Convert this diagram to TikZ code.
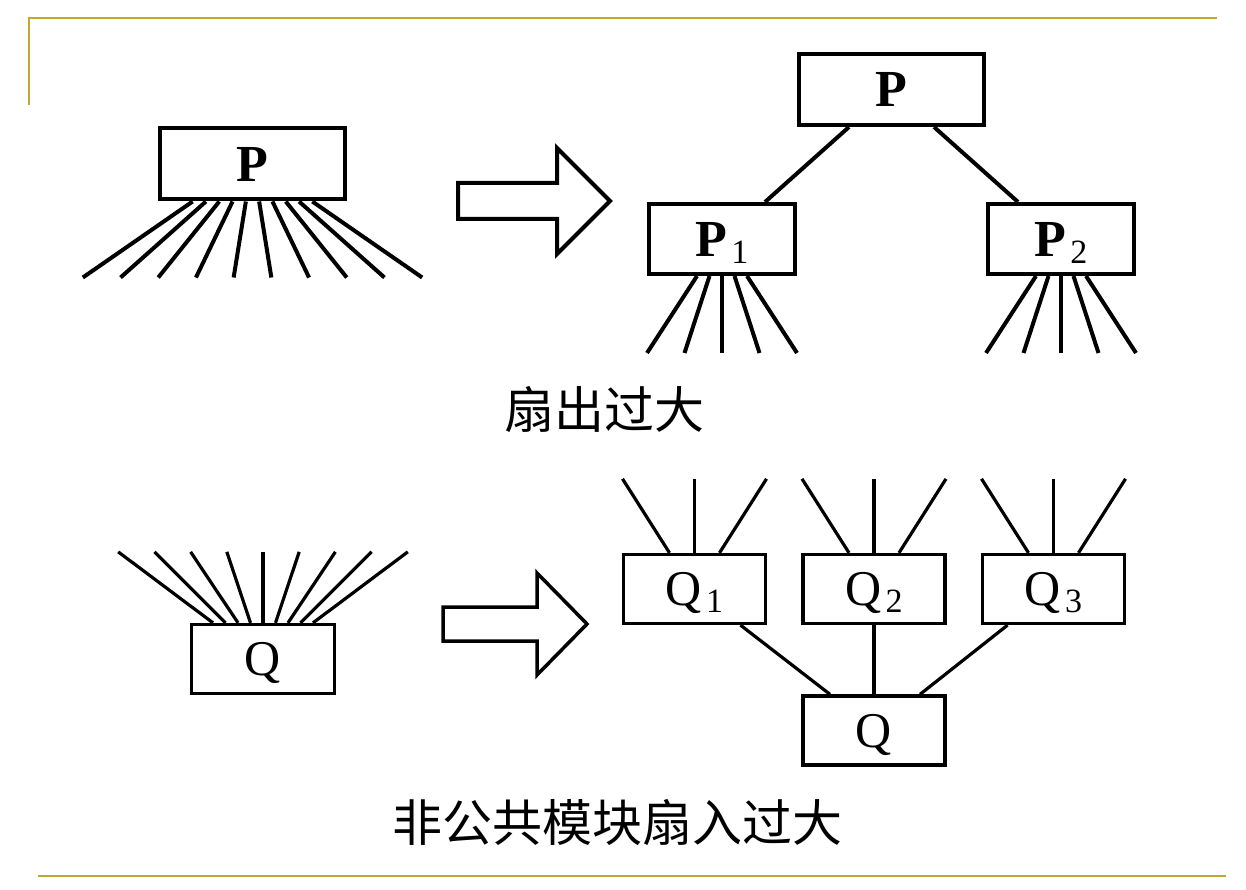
\documentclass[tikz,border=0pt]{standalone}
\usepackage{fontspec}
\setmainfont{Liberation Serif}
\newfontfamily\cjk{Noto Sans CJK SC}
\definecolor{rulegold}{RGB}{196,166,52}
\newcommand{\subidx}[1]{\kern4pt\raisebox{-7pt}[0pt][0pt]{\fontsize{34}{34}\selectfont\mdseries #1}}
\tikzset{
  rule/.style={rulegold, line width=2.5pt},
  mod/.style={draw, line width=4pt, minimum width=185pt, minimum height=71pt, inner sep=0pt,
    text height=35pt, text depth=0pt, font=\fontsize{52}{52}\selectfont\bfseries},
  sub/.style={mod, minimum width=146pt, minimum height=70pt},
  qmod/.style={draw, line width=3.3pt, minimum width=143pt, minimum height=69pt, inner sep=0pt,
    text height=33pt, text depth=0pt, font=\fontsize{50}{50}\selectfont},
  qsub/.style={qmod, minimum width=142pt},
  fan/.style={line width=4pt},
  fanq/.style={line width=3.2pt},
  hollow/.style={draw, line width=4pt, line join=miter},
  caption/.style={inner sep=0pt, font=\fontsize{50}{50}\selectfont\cjk}
}
\begin{document}
\begin{tikzpicture}[x=1pt,y=-1pt]
\useasboundingbox (0,0) rectangle (1246,890);
\draw [rule] (29,105) -- (29,18) -- (1217,18);
\draw [rule] (38,876) -- (1226,876);
% fan-out
\node [mod] (pl) at (252.5,164) {P};
\foreach \k in {-4.5,-3.5,...,4.5}
  \draw [fan] ([xshift=\k*13.3pt]pl.south) --++(\k*24.4,76);
\draw [hollow] (458,183) -- (557,183) -- (557,148) -- (610,201) -- (557,254) -- (557,219) -- (458,219) -- cycle;
\node [mod] (pt) at (891.5,89.5) {P};
\node [sub] (p1) at (722,239) {P\subidx{1}};
\node [sub] (p2) at (1061,239) {P\subidx{2}};
\draw [fan] ([xshift=-42.5pt]pt.south) -- ([xshift=43pt]p1.north);
\draw [fan] ([xshift=42.5pt]pt.south) -- ([xshift=-43pt]p2.north);
\foreach \n in {p1,p2}
  \foreach \k in {-2,...,2}
    \draw [fan] ([xshift=\k*12.5pt]\n.south) --++(\k*25,77);
\node [caption] (t1) at (604,409) {扇出过大};
% fan-in
\node [qmod] (ql) at (263,659) {Q};
\foreach \k in {-4,...,4}
  \draw [fanq] ([xshift=\k*12.5pt]ql.north) --++(\k*23.7,-71);
\draw [hollow, line width=3.5pt] (443,607) -- (537,607) -- (537,573) -- (587,624) -- (537,675) -- (537,641) -- (443,641) -- cycle;
\foreach \i/\x in {1/694.5,2/874,3/1053.5} {
  \node [qsub] (q\i) at (\x,589) {Q\subidx{\i}};
  \foreach \k in {-1,0,1}
    \draw [fanq] ([xshift=\k*25pt]q\i.north) --++(\k*47,-74);
}
\node [qsub] (qb) at (874,730.5) {Q};
\draw [fanq] ([xshift=46pt]q1.south) -- ([xshift=-44pt]qb.north);
\draw [fanq] (q2) -- (qb);
\draw [fanq] ([xshift=-46pt]q3.south) -- ([xshift=46pt]qb.north);
\node [caption] (t2) at (617,822) {非公共模块扇入过大};
\end{tikzpicture}
\end{document}
